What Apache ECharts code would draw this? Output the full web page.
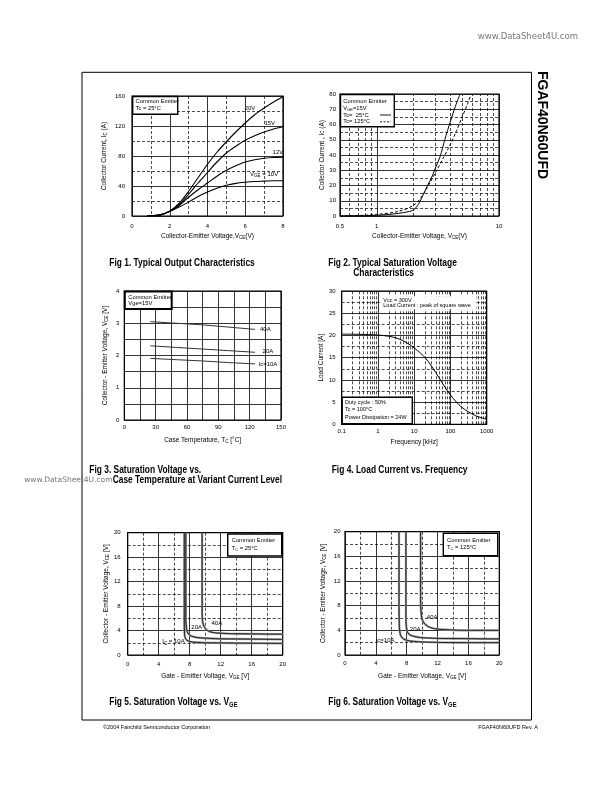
<!DOCTYPE html>
<html><head><meta charset="utf-8">
<script src="https://cdn.jsdelivr.net/npm/echarts@6/dist/echarts.min.js"></script>
<style>html,body{margin:0;padding:0;background:#fff}#c{width:612px;height:792px}</style>
</head><body><div id="c"></div>
<script>
// ================= DATA =================
// Fig 1 – Typical Output Characteristics (Ic vs Vce)
const fig1Vce   = [0.8, 1, 1.5, 2, 2.5, 3, 3.5, 4, 4.5, 5, 5.5, 6, 6.5, 7, 7.5, 8];
const fig1Ic20V = [0, 0.3, 1.5, 6.5, 17, 33, 51, 69, 85, 99, 112, 124, 135, 144, 152, 159];
const fig1Ic15V = [0, 0.3, 1.5, 6.5, 15, 29, 44, 58, 72, 84, 93, 101, 107, 112, 116, 119];
const fig1Ic12V = [0, 0.3, 1.5, 6.3, 14, 25, 35, 44, 53, 61, 67, 72, 75, 77, 78, 78.5];
const fig1Ic10V = [0, 0.3, 1.5, 6, 12, 18.5, 26, 32, 37, 41, 43.5, 45, 46, 46.5, 47, 47];
const fig1Names = ['20V', '15V', '12V', 'V{s|GE} = 10V'];

// Fig 2 – Typical Saturation Voltage Characteristics (log x)
const fig2Vce25  = [0.5, 0.8, 1, 1.2, 1.5, 1.8, 2, 2.2, 2.4, 2.6, 2.8, 3, 3.3, 3.6, 4, 4.4, 4.8];
const fig2Ic25   = [0, 0.2, 0.5, 0.9, 1.7, 2.8, 4, 8, 14, 20, 25, 31, 39, 50, 62, 72, 80];
const fig2Vce125 = [0.5, 0.8, 1, 1.5, 2, 2.3, 2.6, 3, 3.5, 4, 4.5, 5, 5.5, 5.9];
const fig2Ic125  = [0, 0.5, 1, 3, 7, 12, 19, 28, 38, 47, 56, 65, 73, 80];
const fig2MinorX = [0.6, 0.7, 0.8, 0.9, 2, 3, 4, 5, 6, 7, 8, 9];

// Fig 3 – Saturation Voltage vs Case Temperature
const fig3Tc    = [25, 50, 75, 100, 125];
const fig3V40A  = [3.05, 3.0, 2.95, 2.88, 2.81];
const fig3V20A  = [2.30, 2.25, 2.20, 2.15, 2.10];
const fig3V10A  = [1.91, 1.87, 1.83, 1.78, 1.74];
const fig3Names = ['40A', '20A', 'Ic=10A'];

// Fig 4 – Load Current vs Frequency (log x)
const fig4Freq = [0.1, 0.3, 1, 2, 3, 5, 7, 10, 15, 20, 30, 50, 70, 100, 150, 200, 300, 500, 700, 1000];
const fig4Load = [20.3, 20.25, 20.1, 19.8, 19.5, 18.8, 18.1, 17.2, 16.0, 15.0, 13.1, 10.3, 8.4, 6.6, 4.9, 3.9, 2.9, 1.9, 1.5, 1.1];
const fig4MinorX = [0.2,0.3,0.4,0.5,0.6,0.7,0.8,0.9, 2,3,4,5,6,7,8,9, 20,30,40,50,60,70,80,90, 200,300,400,500,600,700,800,900];

// Fig 5 – Saturation Voltage vs VGE, Tc = 25°C
const fig5Vge40 = [9.6, 9.6, 9.65, 9.8, 10.1, 10.6, 11.5, 13, 16, 20];
const fig5Vce40 = [20, 7, 5.6, 4.8, 4.2, 3.8, 3.6, 3.5, 3.45, 3.4];
const fig5Vge20 = [7.5, 7.5, 7.6, 7.8, 8.2, 9, 10, 12, 16, 20];
const fig5Vce20 = [20, 6, 4.2, 3.5, 3.1, 2.85, 2.75, 2.65, 2.6, 2.55];
const fig5Vge10 = [7.3, 7.3, 7.35, 7.5, 7.8, 8.5, 10, 14, 20];
const fig5Vce10 = [20, 5, 3.2, 2.6, 2.3, 2.1, 2.0, 1.95, 1.9];
const fig5Names = ['40A', '20A', 'I{s|C} = 10A'];

// Fig 6 – Saturation Voltage vs VGE, Tc = 125°C
const fig6Vge40 = [9.8, 9.8, 9.85, 10, 10.3, 10.8, 11.5, 12.5, 14, 16, 20];
const fig6Vce40 = [20, 9, 7, 5.8, 5.1, 4.6, 4.3, 4.15, 4.05, 4.0, 4.0];
const fig6Vge20 = [7.9, 7.9, 7.95, 8.1, 8.5, 9.2, 10, 12, 16, 20];
const fig6Vce20 = [20, 6, 4.6, 3.7, 3.2, 2.95, 2.8, 2.7, 2.65, 2.6];
const fig6Vge10 = [7.0, 7.0, 7.05, 7.2, 7.6, 8.3, 9.5, 12, 16, 20];
const fig6Vce10 = [20, 8, 4.5, 3.2, 2.6, 2.3, 2.15, 2.05, 2.0, 2.0];
const fig6Names = ['40A', '20A', 'Ic=10A'];

// ================= BUILD =================
const FONT = 'Liberation Sans';
const RICH = { s: { fontSize: 4.5, fontFamily: FONT, color: '#000', verticalAlign: 'top', padding: [3.5, 0, 0, 0] } };
const zip = (xs, ys) => xs.map((x, i) => [x, ys[i]]);

function linAxis(gi, o) {
  return {
    type: 'value', gridIndex: gi, min: o.min, max: o.max, interval: o.interval,
    axisLine: { show: false }, axisTick: { show: false },
    axisLabel: { fontSize: 6, color: '#000', fontFamily: FONT, margin: o.margin },
    splitLine: { show: true, lineStyle: { color: '#000', width: 0.8 } },
    minorTick: { show: false, splitNumber: o.minor || 5 },
    minorSplitLine: { show: !!o.minor, lineStyle: { color: '#000', width: o.minorSolid ? 0.8 : 0.7, type: o.minorSolid ? 'solid' : [3, 2] } },
    name: o.name, nameLocation: 'middle', nameGap: o.gap, nameRotate: o.rot || 0,
    nameTextStyle: { fontSize: 6.5, color: '#000', fontFamily: FONT, rich: RICH }
  };
}
function logAxis(gi, o) {
  return {
    type: 'log', logBase: 10, gridIndex: gi, min: o.min, max: o.max,
    axisLine: { show: false }, axisTick: { show: false },
    axisLabel: { fontSize: 6, color: '#000', fontFamily: FONT, margin: o.margin, showMinLabel: true, showMaxLabel: true,
      formatter: v => String(+v.toPrecision(3)) },
    splitLine: { show: true, lineStyle: { color: '#000', width: 0.8 } },
    name: o.name, nameLocation: 'middle', nameGap: o.gap,
    nameTextStyle: { fontSize: 6.5, color: '#000', fontFamily: FONT, rich: RICH }
  };
}
function line(gi, xs, ys, lineStyle, extra) {
  return Object.assign({
    type: 'line', xAxisIndex: gi, yAxisIndex: gi, data: zip(xs, ys),
    showSymbol: false, symbol: 'none', smooth: 0.3, silent: true, z: 5,
    lineStyle: Object.assign({ color: '#000', width: 1 }, lineStyle)
  }, extra || {});
}
function labels(items) {
  return {
    symbol: 'circle', symbolSize: 0.1, silent: true, itemStyle: { color: 'rgba(0,0,0,0)' },
    label: { show: true, position: 'inside', fontSize: 6, color: '#000', fontFamily: FONT, formatter: '{b}', rich: RICH },
    data: items.map(([name, x, y]) => ({ name, coord: [x, y] }))
  };
}
function minorMarks(xs) {
  return {
    silent: true, symbol: ['none', 'none'], label: { show: false },
    lineStyle: { color: '#000', width: 0.7, type: [3, 2] },
    emphasis: { disabled: true },
    data: xs.map(v => ({ xAxis: v }))
  };
}

const grids = [
  { left: 132, top: 96, width: 151, height: 120 },
  { left: 340, top: 94, width: 159, height: 122 },
  { left: 124.3, top: 291, width: 156.7, height: 129 },
  { left: 341.7, top: 291, width: 145, height: 133.3 },
  { left: 127.7, top: 532.7, width: 155, height: 122.3 },
  { left: 345, top: 531.7, width: 154.3, height: 123.3 }
].map(g => Object.assign({ show: true, borderColor: '#000', borderWidth: 1.2, backgroundColor: 'rgba(0,0,0,0)' }, g));

const xAxes = [
  linAxis(0, { min: 0, max: 8, interval: 2, minor: 2, margin: 7, name: 'Collector-Emitter Voltage,V{s|CE}(V)', gap: 16 }),
  logAxis(1, { min: 0.5, max: 10, margin: 7, name: 'Collector-Emitter Voltage, V{s|CE}(V)', gap: 15.5 }),
  linAxis(2, { min: 0, max: 150, interval: 30, minor: 2, minorSolid: true, margin: 4, name: 'Case Temperature, T{s|C} [°C]', gap: 15.5 }),
  logAxis(3, { min: 0.1, max: 1000, margin: 4, name: 'Frequency [kHz]', gap: 14 }),
  linAxis(4, { min: 0, max: 20, interval: 4, minor: 2, margin: 6, name: 'Gate - Emitter Voltage, V{s|GE} [V]', gap: 16.5 }),
  linAxis(5, { min: 0, max: 20, interval: 4, minor: 2, margin: 5, name: 'Gate - Emitter Voltage, V{s|GE} [V]', gap: 16.5 })
];
const yAxes = [
  linAxis(0, { min: 0, max: 160, interval: 40, minor: 2, margin: 7, name: 'Collector Current, I{s|C} (A)', gap: 23.5, rot: 90 }),
  linAxis(1, { min: 0, max: 80, interval: 10, minor: 2, margin: 4, name: 'Collector Current , Ic (A)', gap: 14, rot: 90 }),
  linAxis(2, { min: 0, max: 4, interval: 1, minor: 2, minorSolid: true, margin: 5, name: 'Collector - Emitter Voltage, V{s|CE} [V]', gap: 15, rot: 90 }),
  linAxis(3, { min: 0, max: 30, interval: 5, minor: 2, margin: 6, name: 'Load Current [A]', gap: 16, rot: 90 }),
  linAxis(4, { min: 0, max: 20, interval: 4, minor: 2, margin: 7, name: 'Collector - Emitter Voltage, V{s|CE} [V]', gap: 17, rot: 90 }),
  linAxis(5, { min: 0, max: 20, interval: 4, minor: 2, margin: 4.5, name: 'Collector - Emitter Voltage, V{s|CE} [V]', gap: 17.5, rot: 90 })
];

const GRAY = { color: '#999', width: 2.2 };
const BLK = { color: '#000', width: 0.8 };
const series = [
  // Fig 1
  line(0, fig1Vce, fig1Ic20V, { width: 1.1 }, { markPoint: labels([[fig1Names[0], 6.25, 144], [fig1Names[1], 7.3, 123], [fig1Names[2], 7.73, 85], [fig1Names[3], 7.0, 56]]) }),
  line(0, fig1Vce, fig1Ic15V, { width: 1.1 }),
  line(0, fig1Vce, fig1Ic12V, { width: 1.1 }),
  line(0, fig1Vce, fig1Ic10V, { width: 1.1 }),
  // Fig 2
  line(1, fig2Vce25, fig2Ic25, { width: 1 }, { markLine: minorMarks(fig2MinorX) }),
  line(1, fig2Vce125, fig2Ic125, { width: 1, type: [3, 2] }),
  // Fig 3
  line(2, fig3Tc, fig3V40A, { color: '#333', width: 1 }, { smooth: false, markPoint: labels([[fig3Names[0], 135, 2.81], [fig3Names[1], 137.5, 2.12], [fig3Names[2], 137.5, 1.73]]) }),
  line(2, fig3Tc, fig3V20A, { color: '#333', width: 1 }, { smooth: false }),
  line(2, fig3Tc, fig3V10A, { color: '#333', width: 1 }, { smooth: false }),
  // Fig 4
  line(3, fig4Freq, fig4Load, { width: 1 }, { markLine: minorMarks(fig4MinorX) }),
  // Fig 5
  line(4, fig5Vge40, fig5Vce40, GRAY, { smooth: 0.2 }),
  line(4, fig5Vge20, fig5Vce20, GRAY, { smooth: 0.2 }),
  line(4, fig5Vge10, fig5Vce10, GRAY, { smooth: 0.2 }),
  line(4, fig5Vge40, fig5Vce40, BLK, { smooth: 0.2, markPoint: labels([[fig5Names[0], 11.5, 5.2], [fig5Names[1], 8.9, 4.6], [fig5Names[2], 5.9, 2.2]]) }),
  line(4, fig5Vge20, fig5Vce20, BLK, { smooth: 0.2 }),
  line(4, fig5Vge10, fig5Vce10, BLK, { smooth: 0.2 }),
  // Fig 6
  line(5, fig6Vge40, fig6Vce40, GRAY, { smooth: 0.2 }),
  line(5, fig6Vge20, fig6Vce20, GRAY, { smooth: 0.2 }),
  line(5, fig6Vge10, fig6Vce10, GRAY, { smooth: 0.2 }),
  line(5, fig6Vge40, fig6Vce40, BLK, { smooth: 0.2, markPoint: labels([[fig6Names[0], 11.3, 6.05], [fig6Names[1], 9.1, 4.2], [fig6Names[2], 5.2, 2.3]]) }),
  line(5, fig6Vge20, fig6Vce20, BLK, { smooth: 0.2 }),
  line(5, fig6Vge10, fig6Vce10, BLK, { smooth: 0.2 })
];

// ---------- page decorations ----------
function txt(x, y, text, size, o) {
  o = o || {};
  return {
    type: 'text', x, y, z: 120, scaleX: o.scaleX || 1, rotation: o.rotation || 0, silent: true,
    style: { text, fontSize: size, fontFamily: o.family || FONT, fontWeight: o.weight || 'normal',
      fill: o.fill || '#000', align: o.align || 'left', verticalAlign: 'middle', rich: o.rich }
  };
}
function box(x, y, w, h, lw) {
  return { type: 'rect', z: 110, silent: true, shape: { x, y, width: w, height: h },
    style: { fill: '#fff', stroke: lw ? '#000' : null, lineWidth: lw || 0 } };
}
function seg(x1, y1, x2, y2, dash) {
  return { type: 'line', z: 120, silent: true, shape: { x1, y1, x2, y2 },
    style: { stroke: '#000', lineWidth: 0.9, lineDash: dash || null } };
}
const TS = 0.84;
const TRICH = { s: { fontSize: 7, fontWeight: 'bold', fontFamily: FONT, verticalAlign: 'top', padding: [5, 0, 0, 0] } };
const LRICH = { s: { fontSize: 4, fontFamily: FONT, verticalAlign: 'top', padding: [3, 0, 0, 0] } };
const graphic = [
  { type: 'rect', z: 1, silent: true, shape: { x: 82, y: 72.3, width: 449.5, height: 647.7 }, style: { fill: 'none', stroke: '#000', lineWidth: 1 } },
  txt(578, 36.5, 'www.DataSheet4U.com', 8.5, { align: 'right', family: 'DejaVu Sans', fill: '#777' }),
  txt(112.5, 480, 'www.DataSheet4U.com', 7.5, { align: 'right', family: 'DejaVu Sans', fill: '#777' }),
  txt(542, 125, 'FGAF40N60UFD', 14, { weight: 'bold', align: 'center', rotation: -Math.PI / 2 }),
  // figure titles
  txt(109.3, 263.3, 'Fig 1. Typical Output Characteristics', 10, { weight: 'bold', scaleX: TS }),
  txt(328.3, 263.3, 'Fig 2. Typical Saturation Voltage', 10, { weight: 'bold', scaleX: TS }),
  txt(353.3, 273.3, 'Characteristics', 10, { weight: 'bold', scaleX: TS }),
  txt(89.3, 470.7, 'Fig 3. Saturation Voltage vs.', 10, { weight: 'bold', scaleX: TS }),
  txt(112.7, 480, 'Case Temperature at Variant Current Level', 10, { weight: 'bold', scaleX: TS }),
  txt(331.7, 470.7, 'Fig 4. Load Current vs. Frequency', 10, { weight: 'bold', scaleX: TS }),
  txt(109.3, 702.3, 'Fig 5. Saturation Voltage vs. V{s|GE}', 10, { weight: 'bold', scaleX: TS, rich: TRICH }),
  txt(328.3, 702.3, 'Fig 6. Saturation Voltage vs. V{s|GE}', 10, { weight: 'bold', scaleX: TS, rich: TRICH }),
  // footer
  txt(103, 727.5, '©2004 Fairchild Semiconductor Corporation', 5.5),
  txt(538, 727.5, 'FGAF40N60UFD Rev. A', 5.5, { align: 'right' }),
  // Fig 1 legend
  box(132.7, 96.5, 45, 17.8, 1.4),
  txt(135.5, 100.9, 'Common Emitter', 5.8),
  txt(135.5, 107.9, 'Tc = 25°C', 5.8),
  // Fig 2 legend
  box(340.5, 94.5, 53.8, 32.2, 1.4),
  txt(343.3, 100.9, 'Common Emitter', 5.8),
  txt(343.3, 107.9, 'V{s|GE}=15V', 5.8, { rich: LRICH }),
  txt(343.3, 115, 'Tc=  25°C', 5.8),
  txt(343.3, 121.8, 'Tc= 125°C', 5.8),
  seg(380, 115, 391, 115),
  seg(380, 121.8, 391, 121.8, [2, 1.5]),
  // Fig 3 legend
  box(124.8, 291.5, 46.9, 17.5, 2),
  txt(128.3, 297.3, 'Common Emitter', 5.8),
  txt(128.3, 303.3, 'Vge=15V', 5.8),
  // Fig 4 notes
  box(381.7, 296.2, 95, 13, 0),
  txt(383.3, 300, 'Vcc = 300V', 5.5),
  txt(383.3, 305.8, 'Load Current : peak of square wave', 5.5),
  box(342.2, 397.3, 70.1, 26.5, 1.4),
  txt(345, 402.3, 'Duty cycle : 50%', 5.5),
  txt(345, 409.3, 'Tc = 100°C', 5.5),
  txt(345, 417, 'Power Dissipation = 24W', 5.5),
  // Fig 5 legend
  box(227.7, 534, 54, 22, 1.4),
  txt(231.7, 540, 'Common Emitter', 5.8),
  txt(231.7, 548.3, 'T{s|C} = 25°C', 5.8, { rich: LRICH }),
  // Fig 6 legend
  box(443.3, 533.3, 54.4, 22.4, 1.4),
  txt(447, 540, 'Common Emitter', 5.8),
  txt(447, 547.3, 'T{s|C} = 125°C', 5.8, { rich: LRICH })
];

const chart = echarts.init(document.getElementById('c'), null, { renderer: 'canvas' });
chart.setOption({
  animation: false,
  backgroundColor: '#fff',
  grid: grids, xAxis: xAxes, yAxis: yAxes, series, graphic
});
</script></body></html>
